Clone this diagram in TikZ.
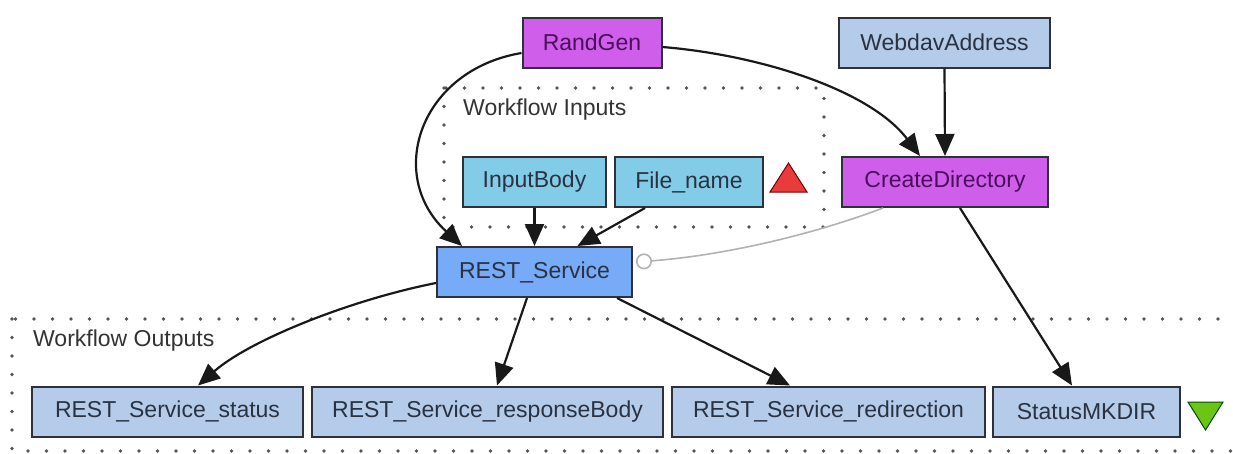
\documentclass[tikz,border=0pt]{standalone}
\usepackage{fontspec}
\setmainfont{Liberation Sans}
\usetikzlibrary{arrows.meta}

\definecolor{procpurple}{HTML}{CF5FEA}
\definecolor{constblue}{HTML}{B5CBEA}
\definecolor{inblue}{HTML}{82CCE8}
\definecolor{restblue}{HTML}{77AAF7}
\definecolor{boxedge}{HTML}{2E3138}
\definecolor{labeltext}{HTML}{2A3242}
\definecolor{purpletext}{HTML}{4A0E5C}
\definecolor{portgrey}{HTML}{555555}
\definecolor{inmark}{HTML}{E83C3C}
\definecolor{outmark}{HTML}{6CC417}

\tikzset{
  wfbox/.style={draw=boxedge, line width=2pt, minimum height=50pt,
    inner sep=0pt, font=\fontsize{23}{23}\selectfont, text=labeltext},
  procbox/.style={wfbox, fill=procpurple, text=purpletext},
  constbox/.style={wfbox, fill=constblue},
  inbox/.style={wfbox, fill=inblue},
  restbox/.style={wfbox, fill=restblue},
  outbox/.style={wfbox, fill=constblue},
  portframe/.style={draw=portgrey, line width=3.6pt, line cap=round,
    dash pattern=on 0pt off 18.5pt},
  framelabel/.style={anchor=west, inner sep=0pt, text=black!80,
    font=\fontsize{23}{23}\selectfont},
  link/.style={draw=black!90, line width=2.2pt,
    -{Triangle[length=22pt,width=19pt]}},
  ctrl/.style={draw=black!30, line width=1.6pt,
    -{Circle[open,length=16pt,width=16pt,line width=1.6pt]}}
}

\begin{document}
\begin{tikzpicture}[x=1pt, y=-1pt]
  \clip (0,0) rectangle (1233,453);
  \fill[white] (0,0) rectangle (1233,453);

  % port frames
  \draw[portframe] (444,88) rectangle (824,227);
  \node[framelabel] (inlabel) at (463,110) {Workflow Inputs};
  \draw[portframe] (12,319) rectangle (1260,451);
  \node[framelabel] (outlabel) at (33,341) {Workflow Outputs};

  % processors and ports
  \node[procbox, minimum width=139pt] (randgen) at (592,42.5) {RandGen};
  \node[constbox, minimum width=211pt] (webdav) at (944.5,42.5) {WebdavAddress};
  \node[inbox, minimum width=143pt] (inputbody) at (534.5,182) {InputBody};
  \node[inbox, minimum width=148pt] (filename) at (689,182) {File\_name};
  \node[procbox, minimum width=206pt] (createdir) at (945,182) {CreateDirectory};
  \node[restbox, minimum width=195pt] (rest) at (534.5,272) {REST\_Service};

  \node[outbox, minimum width=271pt] (status) at (167.5,411.5) {REST\_Service\_status};
  \node[outbox, minimum width=351pt] (body) at (487.5,411.5) {REST\_Service\_responseBody};
  \node[outbox, minimum width=313pt] (redir) at (828.5,411.5) {REST\_Service\_redirection};
  \node[outbox, minimum width=187pt] (mkdir) at (1086.5,411.5) {StatusMKDIR};

  % input / output markers
  \filldraw[fill=inmark, draw=red!45!black, line width=1pt]
    (770,192) -- (807,192) -- (788.5,163) -- cycle;
  \filldraw[fill=outmark, draw=green!30!black, line width=1pt]
    (1188,402) -- (1223,402) -- (1205.5,430) -- cycle;

  % data links
  \draw[link] ([yshift=-10.5pt]randgen.west)
    .. controls (420,70) and (385,175) .. ([xshift=-72.5pt]rest.north);
  \draw[link] (inputbody.south) -- (rest.north);
  \draw[link] ([xshift=-44pt]filename.south) -- ([xshift=43pt]rest.north);
  \draw[link] ([yshift=-4.5pt]randgen.east)
    .. controls (760,55) and (870,90) .. ([xshift=-25pt]createdir.north);
  \draw[link] (webdav.south) -- (createdir.north);
  \draw[link] ([yshift=-11pt]rest.west)
    .. controls (350,300) and (250,340) .. ([xshift=30.5pt]status.north);
  \draw[link] ([xshift=-7.5pt]rest.south) -- ([xshift=9.5pt]body.north);
  \draw[link] ([xshift=82.5pt]rest.south) -- ([xshift=-38.5pt]redir.north);
  \draw[link] ([xshift=15pt]createdir.south) -- ([xshift=-14.5pt]mkdir.north);

  % control link
  \draw[ctrl] ([xshift=-62pt]createdir.south)
    .. controls (820,232) and (730,255) .. ([xshift=3pt,yshift=10pt]rest.east);
\end{tikzpicture}
\end{document}
